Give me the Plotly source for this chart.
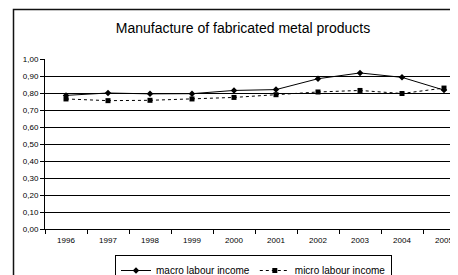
import plotly.graph_objects as go

years = ["1996", "1997", "1998", "1999", "2000", "2001", "2002", "2003", "2004", "2005"]
macro = [0.786, 0.800, 0.795, 0.796, 0.815, 0.820, 0.884, 0.918, 0.892, 0.817]
micro = [0.765, 0.755, 0.757, 0.765, 0.774, 0.790, 0.806, 0.815, 0.797, 0.829]
y_ticks = [0.0, 0.1, 0.2, 0.3, 0.4, 0.5, 0.6, 0.7, 0.8, 0.9, 1.0]

# page has an 8px body margin; lay out in page pixels and shift
D = 8
PAGE_W, PAGE_H = 458, 275
W, H = PAGE_W - D, PAGE_H - D
L = 45 - D            # plot left (page x=45)
T = 59 - D            # plot top (page y=59)
BOT = 229 - D         # plot bottom (page y=229)
B = H - BOT
plot_w = W - L
plot_h = BOT - T

def px_x(p):
    return (p - D - L) / plot_w

def px_y(p):
    return (BOT - (p - D)) / plot_h

fig = go.Figure()
fig.add_trace(go.Scatter(
    x=years, y=macro, name="macro labour income", mode="lines+markers",
    line=dict(color="black", width=1),
    marker=dict(symbol="diamond", size=5, color="black"),
))
fig.add_trace(go.Scatter(
    x=years, y=micro, name="micro labour income", mode="lines+markers",
    line=dict(color="black", width=1, dash="dot"),
    marker=dict(symbol="square", size=5, color="black"),
))

fig.add_shape(type="rect", xref="paper", yref="paper",
              x0=px_x(13.5), x1=px_x(480), y0=px_y(9.5), y1=px_y(300),
              line=dict(color="#111111", width=1.5), layer="below")

fig.update_layout(
    width=W, height=H,
    margin=dict(l=L, r=0, t=T, b=B, pad=0, autoexpand=False),
    paper_bgcolor="white", plot_bgcolor="white",
    separators=",.",
    font=dict(family="Liberation Sans, Arial, sans-serif", color="black", size=8),
    title=dict(text="Manufacture of fabricated metal products",
               x=(243 - D) / W, xanchor="center", y=1 - (28 - D) / H, yanchor="middle",
               font=dict(size=14, color="black")),
    showlegend=True,
    legend=dict(orientation="h", x=px_x(115), xanchor="left",
                y=px_y(255), yanchor="top",
                bordercolor="black", borderwidth=1, bgcolor="white",
                font=dict(size=10), itemwidth=30, tracegroupgap=0),
    xaxis=dict(type="category", range=[-0.5, (PAGE_W - 66) / 42],
               tickson="boundaries", ticks="outside", ticklen=4,
               tickcolor="black", showgrid=False, showline=True,
               linecolor="black", linewidth=1, tickfont=dict(size=8),
               ticklabelstandoff=3,
               automargin=False, fixedrange=True),
    yaxis=dict(range=[0, 1.0], tickvals=y_ticks, tickformat=".2f",
               ticks="outside", ticklen=4, tickcolor="black",
               showgrid=True, gridcolor="black", gridwidth=1,
               showline=True, linecolor="black", linewidth=1,
               zeroline=False, tickfont=dict(size=8),
               automargin=False, fixedrange=True),
)

fig.write_html("out.html")
